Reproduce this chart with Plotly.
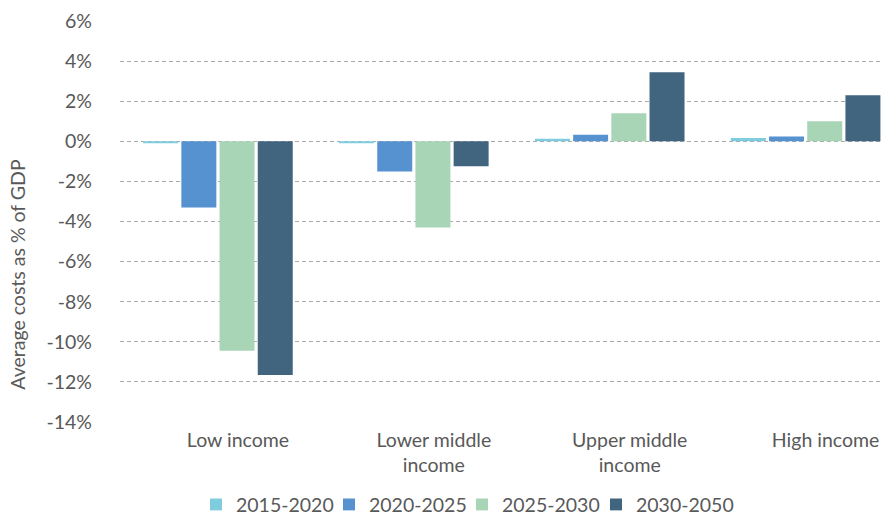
import plotly.graph_objects as go

categories = ["Low income", "Lower middle<br>income", "Upper middle<br>income", "High income"]
series_names = ["2015-2020", "2020-2025", "2025-2030", "2030-2050"]
values_2015_2020 = [-0.1, -0.1, 0.13, 0.17]
values_2020_2025 = [-3.3, -1.5, 0.33, 0.24]
values_2025_2030 = [-10.45, -4.3, 1.4, 1.0]
values_2030_2050 = [-11.65, -1.25, 3.45, 2.3]
colors = ["#7FCCDF", "#5592CF", "#A8D5B6", "#41657F"]
y_tick_vals = [6, 4, 2, 0, -2, -4, -6, -8, -10, -12, -14]
y_tick_text = ["6%", "4%", "2%", "0%", "-2%", "-4%", "-6%", "-8%", "-10%", "-12%", "-14%"]
y_title = "Average costs as % of GDP"

FONT = "Lato"
GREY = "#595959"
FS = 19.5
ML, PW = 120, 763
legend_text_starts = [237, 370, 503, 637]  # layout positions (px) of legend labels

fig = go.Figure()
legend_ids = ["legend", "legend2", "legend3", "legend4"]
for name, vals, col, lid in zip(series_names,
                                [values_2015_2020, values_2020_2025, values_2025_2030, values_2030_2050],
                                colors, legend_ids):
    fig.add_trace(go.Bar(x=categories, y=vals, name=name, legend=lid,
                         marker=dict(color=col, line=dict(width=0))))

layout_legends = {}
for lid, ts in zip(legend_ids, legend_text_starts):
    layout_legends[lid] = dict(orientation="h", xref="paper", x=(ts - 41 - ML) / PW, xanchor="left",
                               yref="container", y=0.02, yanchor="middle",
                               font=dict(size=FS, color=GREY), itemwidth=30,
                               bgcolor="rgba(0,0,0,0)")

fig.update_layout(
    width=883, height=515,
    paper_bgcolor="white", plot_bgcolor="white",
    barmode="group", bargap=0.22, bargroupgap=0.084,
    margin=dict(l=ML, r=0, t=21, b=93),
    font=dict(family=FONT, size=FS, color=GREY),
    showlegend=True,
    annotations=[dict(text=y_title, textangle=-90, xref="paper", yref="paper",
                      x=(18 - ML) / PW, y=(421.7 - 274.5) / 400.7,
                      xanchor="center", yanchor="middle", showarrow=False,
                      font=dict(family=FONT, size=FS, color=GREY))],
    **layout_legends,
)
fig.update_xaxes(range=[-0.5, 3.395], showgrid=False, zeroline=False, showline=False,
                 ticks="", tickfont=dict(size=FS, color=GREY), ticklabelshift=20,
                 ticklabelstandoff=4, fixedrange=True)
fig.update_yaxes(range=[-14, 6], tickvals=y_tick_vals, ticktext=y_tick_text,
                 showgrid=True, gridcolor="#AAAAAA", griddash="4px,3px", gridwidth=1.2,
                 zeroline=False, showline=False, ticks="",
                 tickfont=dict(size=FS, color=GREY), ticklabelstandoff=27,
                 automargin=False, fixedrange=True)

fig.write_html("out.html", config={"displayModeBar": False},
               post_script="document.body.style.margin='0';")
